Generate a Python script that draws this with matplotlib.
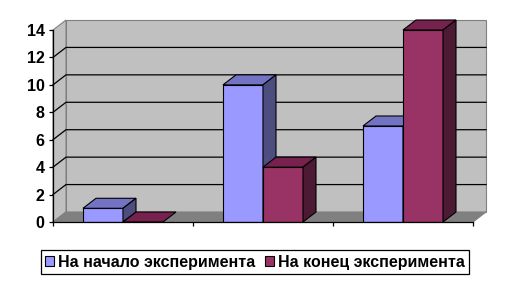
import matplotlib.pyplot as plt
from matplotlib.patches import Polygon, Patch

plt.rcParams['font.family'] = ['Liberation Sans', 'DejaVu Sans']
plt.rcParams['font.weight'] = 'bold'

# data
categories = ['1', '2', '3']
series_names = ['На начало эксперимента', 'На конец эксперимента']
start_values = [1, 10, 7]
end_values = [0, 4, 14]
y_ticks = [0, 2, 4, 6, 8, 10, 12, 14]

front_colors = ['#9999FF', '#993366']
top_colors = ['#7373C4', '#77224E']
side_colors = ['#4D4D80', '#4D1A33']

fig = plt.figure(figsize=(5.11, 2.84), dpi=100)
ax = fig.add_axes([53 / 511, 62 / 284, 420 / 511, 192 / 284])
n = len(categories)
ax.set_xlim(0, n)
ax.set_ylim(0, 14)

# depth of the 3d effect in data units
dx = 13 / 140
dy = 10 / (192 / 14)

def poly(pts, fc, ec, lw=0.8, z=1):
    p = Polygon(pts, closed=True, fc=fc, ec=ec, lw=lw, zorder=z, clip_on=False)
    ax.add_patch(p)

# walls and floor
poly([(dx, dy), (n + dx, dy), (n + dx, 14 + dy), (dx, 14 + dy)], '#C0C0C0', '#808080', z=0.5)
poly([(0, 0), (dx, dy), (dx, 14 + dy), (0, 14)], '#C0C0C0', '#808080', z=0.5)
poly([(0, 0), (n, 0), (n + dx, dy), (dx, dy)], '#808080', '#808080', z=0.6)
for v in y_ticks[1:-1]:
    ax.plot([0, dx, n + dx], [v, v + dy, v + dy], color='black', lw=0.9, zorder=0.7, clip_on=False)

# bars (left to right so front faces cover side faces)
w = 1 / 3.5
for i in range(n):
    for s, vals in enumerate([start_values, end_values]):
        x0 = i + w * 0.75 + s * w
        h = vals[i]
        ax.bar(x0, h, width=w, align='edge', color=front_colors[s],
               edgecolor='black', linewidth=0.8, zorder=2 + i * 2 + s * 0.5)
        z = 2 + i * 2 + s * 0.5 + 0.1
        poly([(x0, h), (x0 + w, h), (x0 + w + dx, h + dy), (x0 + dx, h + dy)],
             top_colors[s], 'black', z=z)
        if h > 0:
            poly([(x0 + w, 0), (x0 + w + dx, dy), (x0 + w + dx, h + dy), (x0 + w, h)],
                 side_colors[s], 'black', z=z)

ax.set_facecolor('none')
for sp in ['top', 'right']:
    ax.spines[sp].set_visible(False)
ax.spines['left'].set_linewidth(0.9)
ax.spines['bottom'].set_linewidth(0.9)
ax.spines['left'].set_zorder(10)
ax.spines['bottom'].set_zorder(10)
ax.set_yticks(y_ticks)
ax.set_yticklabels([str(t) for t in y_ticks], fontsize=11.5, fontweight='bold')
ax.set_xticks(range(n + 1))
ax.set_xticklabels([])
ax.tick_params(axis='both', length=3, width=0.9, pad=3)

handles = [Patch(fc=front_colors[k], ec='black', lw=0.8) for k in range(2)]
leg = fig.legend(handles, series_names, loc='center', bbox_to_anchor=(255 / 511, 1 - 262 / 284),
                 ncol=2, fontsize=11.5, fancybox=False, edgecolor='black', framealpha=1,
                 handlelength=0.55, handleheight=0.55, handletextpad=0.25, columnspacing=0.6,
                 borderpad=0.3, borderaxespad=0)
leg.get_frame().set_linewidth(0.9)
for t in leg.get_texts():
    t.set_fontweight('bold')

fig.savefig('out.png', dpi=100)
